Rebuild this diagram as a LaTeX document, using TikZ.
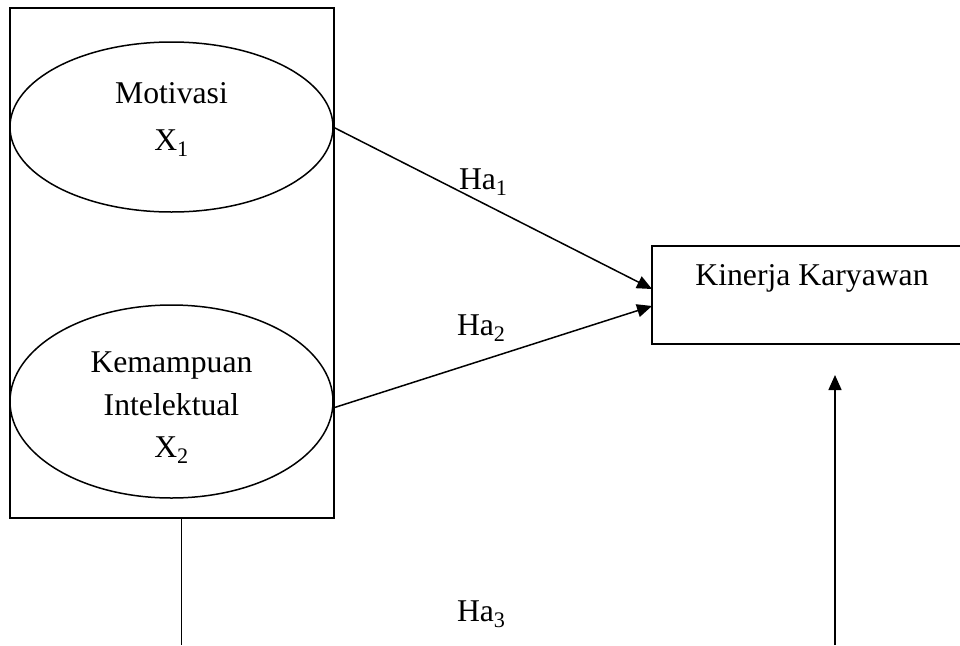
\documentclass[tikz,border=0pt]{standalone}
\usepackage{fontspec}
\setmainfont{Liberation Serif}
\usetikzlibrary{arrows.meta,shapes.geometric}
\begin{document}
\begin{tikzpicture}[x=1pt,y=-1pt,
  line width=1.5pt,
  every node/.style={inner sep=0pt, outer sep=0pt},
  txt/.style={font=\fontsize{31.7}{38}\selectfont, anchor=base},
  oval/.style={draw, ellipse, minimum width=323pt},
  boxr/.style={draw, rectangle},
  arr/.style={-{Triangle[length=15pt,width=13pt]}}]
\useasboundingbox (0,0) rectangle (960,645);
% outer rectangle
\node[boxr, minimum width=324pt, minimum height=510pt] (outer) at (172,263) {};
% ellipses
\node[oval, minimum height=170pt] (e1) at (171.5,127) {};
\node[oval, minimum height=193pt] (e2) at (171.5,401.5) {};
\node[txt] (t1a) at (171.5,103) {Motivasi};
\node[txt] (t1b) at (171.5,150) {X\textsubscript{1}};
\node[txt] (t2a) at (171.5,372) {Kemampuan};
\node[txt] (t2b) at (171.5,415) {Intelektual};
\node[txt] (t2c) at (171.5,457) {X\textsubscript{2}};
% target box: its right side lies beyond the picture's edge, so only three sides show
\node[rectangle, minimum width=312pt, minimum height=98pt] (k) at (808,295) {};
\draw (k.north east) -- (k.north west) -- (k.south west) -- (k.south east);
\node[txt] (kt) at (812,285) {Kinerja Karyawan};
% connector points
\coordinate (k1) at (652,289);
\coordinate (k2) at (652,306);
\coordinate (s2) at (333,408);
\coordinate (vb) at (181.7,645);
\coordinate (vt) at (181.7,518);
\coordinate (ab) at (835,645);
\coordinate (atop) at (835,375);
\draw[arr] (e1.east) -- (k1);
\draw[arr] (s2) -- (k2);
\draw (vt) -- (vb);
\draw[arr] (ab) -- (atop);
% labels
\node[txt, anchor=base west] (h1) at (459,189) {Ha\textsubscript{1}};
\node[txt, anchor=base west] (h2) at (457,335) {Ha\textsubscript{2}};
\node[txt, anchor=base west] (h3) at (457,621) {Ha\textsubscript{3}};
\end{tikzpicture}
\end{document}
